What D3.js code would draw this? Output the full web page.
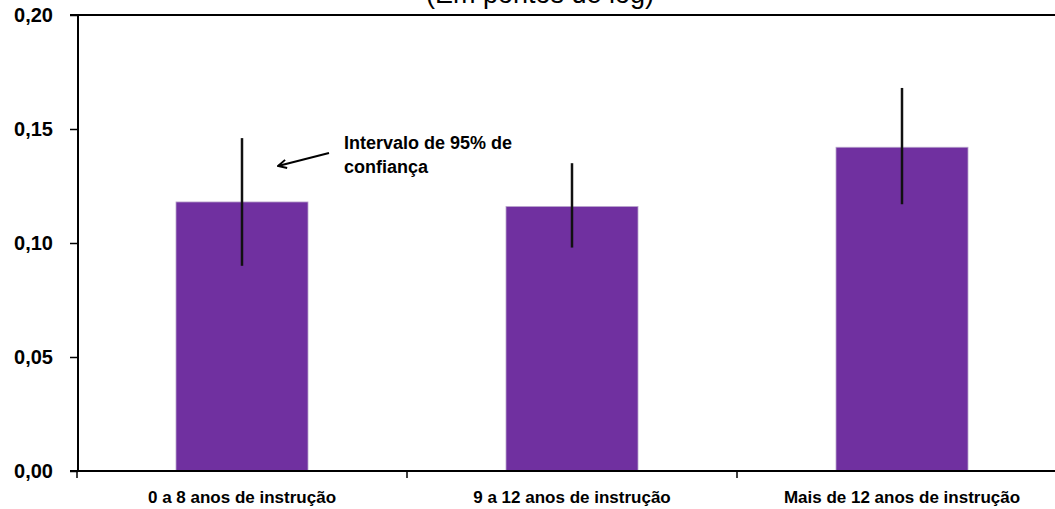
<!DOCTYPE html>
<html>
<head>
<meta charset="utf-8">
<script src="https://cdn.jsdelivr.net/npm/d3@7"></script>
<style>
  html, body { margin: 0; padding: 0; background: #ffffff; }
  svg { display: block; }
  text { font-family: "Liberation Sans", Arial, sans-serif; }
</style>
</head>
<body>
<svg id="chart" width="1055" height="509"></svg>
<script>
// Categories (years of schooling)
const categories = ["0 a 8 anos de instrução", "9 a 12 anos de instrução", "Mais de 12 anos de instrução"];
// Point estimates (log points)
const values = [0.118, 0.116, 0.142];
// 95% confidence interval bounds
const lowerCI = [0.090, 0.098, 0.117];
const upperCI = [0.146, 0.135, 0.168];
// Y axis ticks and labels
const yTicks = [0.00, 0.05, 0.10, 0.15, 0.20];
const yTickLabels = ["0,00", "0,05", "0,10", "0,15", "0,20"];
const title = "(Em pontos de log)";
const noteLines = ["Intervalo de 95% de", "confiança"];

const svg = d3.select("#chart");
const W = 1055;

const plotLeft = 77, plotRight = 1067, plotTop = 15, plotBottom = 471;

const x = d3.scaleBand()
  .domain(categories)
  .range([plotLeft, plotRight])
  .paddingInner(0.6)
  .paddingOuter(0.3);

const y = d3.scaleLinear()
  .domain([0, 0.20])
  .range([plotBottom, plotTop]);

const step = x.step();
const gap = step - x.bandwidth();

// Title (runs off the top edge)
svg.append("text")
  .attr("x", 540)
  .attr("y", 3)
  .attr("text-anchor", "middle")
  .attr("font-size", 27)
  .attr("fill", "#000")
  .text(title);

// Top frame line at the maximum value
svg.append("line")
  .attr("x1", 70).attr("x2", W)
  .attr("y1", y(0.20)).attr("y2", y(0.20))
  .attr("stroke", "#000").attr("stroke-width", 2);

// Bars
svg.append("g").selectAll("rect")
  .data(categories)
  .join("rect")
  .attr("x", d => x(d))
  .attr("width", x.bandwidth())
  .attr("y", (d, i) => y(values[i]))
  .attr("height", (d, i) => y(0) - y(values[i]))
  .attr("fill", "#7030A0")
  .attr("stroke", "#B9A5CC")
  .attr("stroke-width", 0.8);

// Confidence interval lines
svg.append("g").selectAll("line")
  .data(categories)
  .join("line")
  .attr("x1", d => x(d) + x.bandwidth() / 2)
  .attr("x2", d => x(d) + x.bandwidth() / 2)
  .attr("y1", (d, i) => y(upperCI[i]))
  .attr("y2", (d, i) => y(lowerCI[i]))
  .attr("stroke", "#111")
  .attr("stroke-width", 2.5);

// Y axis
const yAxis = d3.axisLeft(y)
  .tickValues(yTicks)
  .tickFormat((d, i) => yTickLabels[i])
  .tickSize(8)
  .tickPadding(17);

const gy = svg.append("g")
  .attr("transform", `translate(78,0)`)
  .call(yAxis);
gy.select(".domain").attr("stroke", "#000").attr("stroke-width", 2)
  .attr("d", `M0,${plotTop}V${plotBottom}`);
gy.selectAll(".tick line").attr("stroke", "#000").attr("stroke-width", 1.5);
gy.selectAll(".tick text")
  .attr("font-family", "Liberation Sans, Arial, sans-serif")
  .attr("font-size", 20)
  .attr("font-weight", "bold")
  .attr("fill", "#000");

// X axis
const xAxis = d3.axisBottom(x).tickSize(0).tickPadding(20);
const gx = svg.append("g")
  .attr("transform", `translate(0,${plotBottom})`)
  .call(xAxis);
gx.select(".domain").attr("stroke", "#000").attr("stroke-width", 2)
  .attr("d", `M70,0H${W}`);
gx.selectAll(".tick text")
  .attr("font-family", "Liberation Sans, Arial, sans-serif")
  .attr("font-size", 17)
  .attr("font-weight", "bold")
  .attr("fill", "#000");

// Category boundary ticks
gx.selectAll(".bound")
  .data(categories)
  .join("line")
  .attr("class", "bound")
  .attr("x1", d => x(d) - gap / 2)
  .attr("x2", d => x(d) - gap / 2)
  .attr("y1", 0).attr("y2", 7)
  .attr("stroke", "#000").attr("stroke-width", 1.5);

// Annotation with arrow pointing to the first interval
svg.append("defs").append("marker")
  .attr("id", "arrowhead")
  .attr("viewBox", "0 0 10 10")
  .attr("refX", 9).attr("refY", 5)
  .attr("markerWidth", 6).attr("markerHeight", 6)
  .attr("markerUnits", "strokeWidth")
  .attr("orient", "auto")
  .append("path")
  .attr("d", "M2,1.5 L9,5 L2,8.5")
  .attr("fill", "none")
  .attr("stroke", "#000")
  .attr("stroke-width", 1.6);

svg.append("line")
  .attr("x1", 329).attr("y1", 153)
  .attr("x2", 278).attr("y2", 166)
  .attr("stroke", "#000")
  .attr("stroke-width", 2)
  .attr("marker-end", "url(#arrowhead)");

const note = svg.append("text")
  .attr("x", 344)
  .attr("y", 149)
  .attr("font-size", 18)
  .attr("font-weight", "bold")
  .attr("fill", "#000");
note.selectAll("tspan")
  .data(noteLines)
  .join("tspan")
  .attr("x", 344)
  .attr("dy", (d, i) => i === 0 ? 0 : 24)
  .text(d => d);
</script>
</body>
</html>
